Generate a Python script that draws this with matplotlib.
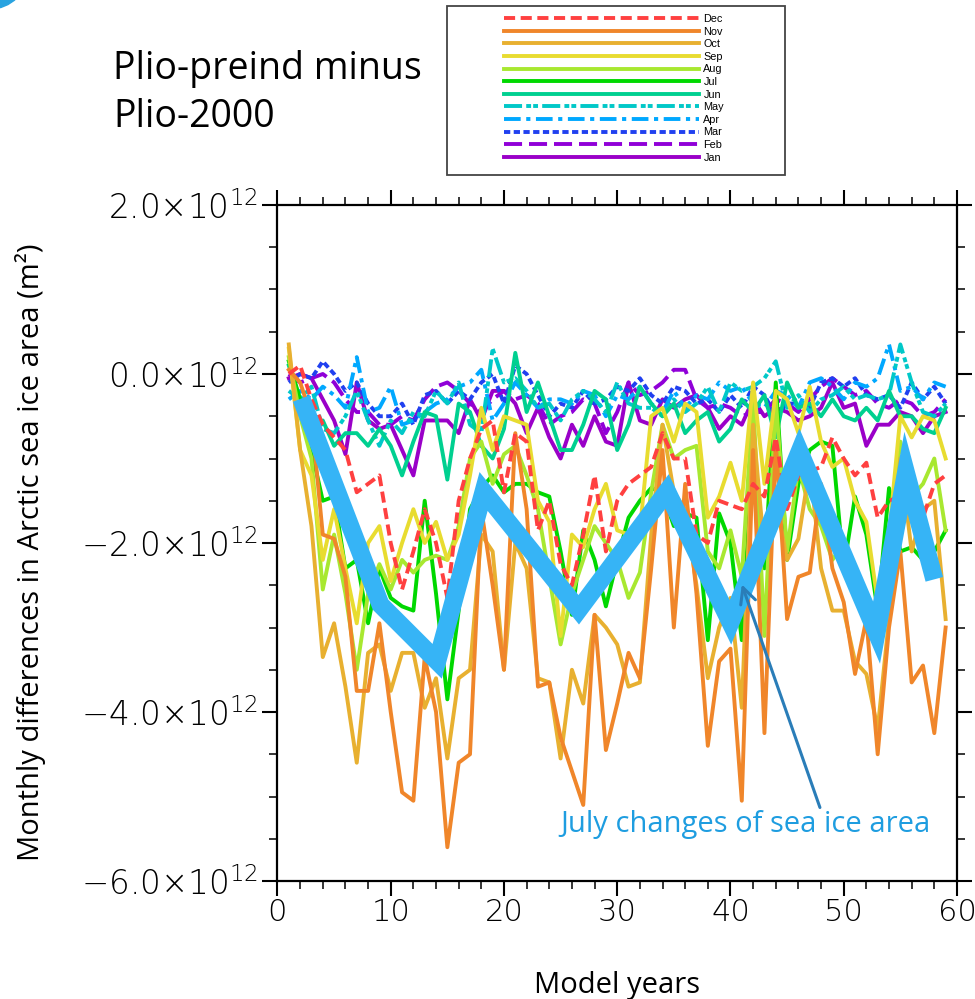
import matplotlib
matplotlib.use('Agg')
import matplotlib.pyplot as plt
import matplotlib.patches as mpatches
import numpy as np

plt.rcParams['lines.scale_dashes'] = False
plt.rcParams['mathtext.default'] = 'regular'

# ---- data (units of 1e12 m^2) ----
years = np.arange(1, 60)

jan = [-0.05, 0.0, -0.05, -0.3, -0.55, -0.95, -0.1, -0.55, -0.65, -0.6,
       -0.9, -1.2, -0.55, -0.55, -0.55, -0.7, -0.3, -0.55, -0.2, -0.2,
       -0.35, -0.7, -0.4, -0.75, -1.0, -0.6, -0.85, -0.5, -0.8, -0.85,
       -0.1, -0.55, -0.6, -0.3, -0.4, -0.3, -0.25, -0.4, -0.65, -0.5,
       -0.6, -0.3, -0.5, -0.4, -0.45, -0.55, -0.5, -0.4, -0.1, -0.4,
       -0.35, -0.85, -0.6, -0.6, -0.45, -0.5, -0.7, -0.5, -0.45]
feb = [0.0, -0.1, -0.05, 0.0, -0.1, -0.3, -0.45, -0.45, -0.6, -0.6,
       -0.5, -0.55, -0.3, -0.15, -0.1, -0.2, -0.35, -0.45, -0.3, -0.2,
       -0.3, -0.25, -0.35, -0.6, -0.5, -0.45, -0.3, -0.35, -0.7, -0.45,
       -0.1, -0.25, -0.2, -0.1, 0.05, 0.05, -0.3, -0.4, -0.35, -0.4,
       -0.5, -0.45, -0.45, -0.3, -0.35, -0.45, -0.3, -0.15, -0.05, -0.15,
       -0.25, -0.2, -0.35, -0.4, -0.3, -0.35, -0.5, -0.45, -0.3]
mar = [-0.1, 0.0, -0.05, 0.15, 0.0, -0.2, -0.1, -0.35, -0.5, -0.5,
       -0.35, -0.6, -0.25, -0.2, -0.35, -0.2, -0.3, -0.1, 0.0, -0.35,
       0.1, 0.0, -0.25, -0.5, -0.35, -0.4, -0.2, -0.35, -0.3, -0.15,
       -0.2, -0.05, -0.25, -0.35, -0.15, -0.2, -0.35, -0.3, -0.45, -0.25,
       -0.4, -0.15, -0.25, -0.5, -0.35, -0.35, -0.4, -0.1, -0.05, -0.15,
       -0.05, -0.25, -0.3, -0.25, -0.4, -0.1, -0.3, -0.15, -0.35]
apr = [-0.3, -0.2, -0.3, -0.15, -0.25, -0.4, 0.2, -0.45, -0.4, -0.15,
       -0.6, -0.55, -0.45, -0.35, -0.3, -0.15, -0.1, 0.05, -0.55, -0.35,
       -0.1, -0.25, -0.4, -0.3, -0.3, -0.35, -0.2, -0.25, -0.5, -0.25,
       -0.3, -0.15, -0.35, -0.45, -0.2, -0.4, -0.25, -0.3, -0.1, -0.2,
       -0.15, -0.35, -0.4, -0.2, -0.25, -0.4, -0.1, -0.05, -0.15, -0.3,
       -0.1, -0.15, -0.05, 0.35, -0.2, -0.15, -0.3, -0.1, -0.15]
may = [-0.2, -0.3, -0.15, -0.65, -0.7, -0.5, -0.2, -0.55, -0.85, -0.55,
       -0.7, -0.45, -0.5, -0.2, -0.35, -0.1, -0.6, -0.7, 0.3, -0.1,
       -0.05, -0.2, -0.4, -0.35, -0.55, -0.3, -0.2, -0.3, -0.45, -0.1,
       -0.35, -0.4, -0.4, -0.5, -0.3, -0.45, -0.35, -0.15, -0.45, -0.1,
       -0.2, -0.15, -0.05, 0.15, -0.4, -0.25, -0.45, -0.3, -0.25, -0.15,
       -0.3, -0.25, -0.3, -0.25, 0.35, -0.1, -0.45, -0.5, -0.35]
jun = [0.1, -0.3, -0.6, -0.55, -0.85, -0.7, -0.7, -0.85, -0.65, -0.85,
       -1.2, -0.8, -0.45, -0.5, -1.25, -0.35, -0.45, -0.85, -1.0, -0.65,
       0.25, -0.45, -0.1, -0.5, -0.9, -0.9, -0.6, -0.2, -0.3, -0.9,
       -0.6, -0.15, -0.35, -0.5, -0.35, -0.7, -0.55, -0.45, -0.8, -0.65,
       -0.3, -0.45, -0.25, -0.75, -0.1, -0.4, -0.35, -0.5, -0.3, -0.5,
       -0.55, -0.4, -0.55, -0.2, -0.5, -0.5, -0.65, -0.7, -0.4]
jul = [0.15, -0.3, -0.9, -1.5, -1.45, -2.3, -2.2, -2.95, -2.3, -2.65,
       -2.75, -2.8, -1.5, -2.6, -3.85, -2.8, -1.6, -1.35, -1.2, -1.4,
       -1.3, -1.3, -1.4, -1.45, -2.1, -2.85, -1.85, -2.2, -2.75, -2.2,
       -1.7, -1.5, -1.35, -1.4, -1.8, -1.65, -1.7, -3.15, -1.65, -2.0,
       -3.15, -0.85, -2.3, -0.1, -2.2, -1.3, -0.9, -0.8, -0.85, -2.3,
       -1.45, -1.9, -2.8, -1.35, -2.1, -2.05, -2.2, -2.1, -1.85]
aug = [0.2, -0.5, -1.0, -2.55, -1.9, -2.6, -3.5, -2.6, -2.25, -2.55,
       -2.2, -2.35, -2.2, -2.15, -2.2, -1.8, -1.0, -0.8, -1.3, -0.95,
       -0.85, -1.2, -1.6, -2.4, -3.2, -2.6, -2.2, -1.8, -2.0, -2.2,
       -2.65, -2.35, -1.4, -0.6, -1.0, -0.9, -0.85, -2.1, -2.3, -1.85,
       -2.4, -0.3, -3.1, -0.3, -2.1, -1.1, -1.6, -1.8, -2.2, -2.0,
       -2.4, -2.8, -3.15, -1.9, -0.8, -1.45, -1.3, -1.0, -1.85]
sep = [0.3, -0.9, -1.2, -2.2, -1.6, -2.3, -2.95, -2.0, -1.8, -2.45,
       -2.0, -1.6, -2.0, -1.75, -2.2, -1.9, -1.2, -0.4, -0.9, -0.5,
       -0.55, -0.6, -1.5, -1.75, -3.1, -1.9, -2.05, -1.6, -1.3, -1.85,
       -1.9, -1.85, -0.5, -0.4, -0.8, -0.35, -0.45, -1.7, -1.45, -1.05,
       -1.5, -0.1, -1.3, -0.2, -0.3, -0.7, -0.15, -0.8, -1.1, -1.0,
       -1.5, -1.75, -2.7, -1.9, -0.5, -0.75, -0.5, -0.55, -1.0]
oct_ = [0.35, -0.9, -1.8, -3.35, -2.95, -3.7, -4.6, -3.3, -3.2, -3.75,
        -3.3, -3.3, -3.95, -3.6, -4.55, -3.6, -3.5, -1.9, -2.1, -3.5,
        -2.0, -2.3, -3.6, -3.65, -4.55, -3.5, -3.9, -2.85, -3.0, -3.2,
        -3.7, -3.65, -1.9, -0.6, -1.4, -1.6, -2.5, -3.6, -3.0, -2.65,
        -3.95, -0.6, -2.1, -1.5, -2.2, -1.95, -1.1, -2.3, -2.8, -2.8,
        -3.4, -3.55, -4.2, -2.9, -1.0, -2.1, -1.6, -1.5, -2.9]
nov = [0.05, -0.1, -0.5, -1.9, -1.95, -2.4, -3.75, -3.75, -2.95, -4.0,
       -4.95, -5.05, -3.35, -4.0, -5.6, -4.6, -4.5, -1.6, -2.5, -3.5,
       -0.7, -1.6, -3.7, -3.65, -4.3, -4.7, -5.1, -2.85, -4.45, -3.9,
       -3.3, -3.6, -2.3, -0.9, -3.0, -1.3, -2.6, -4.4, -3.4, -3.25,
       -5.05, -0.9, -4.25, -0.8, -2.9, -2.4, -2.35, -1.3, -2.3, -2.7,
       -3.55, -2.9, -4.5, -3.0, -2.1, -3.65, -3.45, -4.25, -3.0]
dec = [0.0, 0.1, -0.3, -0.6, -0.75, -0.9, -1.4, -1.3, -1.2, -2.0,
       -2.55, -2.1, -1.6, -2.0, -2.65, -1.5, -1.0, -0.65, -0.55, -1.4,
       -0.7, -0.8, -1.85, -1.5, -2.25, -2.5, -1.9, -1.2, -2.1, -1.5,
       -1.3, -1.2, -1.1, -0.7, -1.0, -1.0, -1.9, -2.0, -1.5, -1.55,
       -1.6, -1.3, -1.45, -0.75, -1.6, -1.2, -1.15, -1.1, -0.75, -1.0,
       -1.2, -1.05, -1.7, -1.5, -1.45, -1.7, -1.7, -1.3, -1.2]

month_names = ['Jan', 'Feb', 'Mar', 'Apr', 'May', 'Jun',
               'Jul', 'Aug', 'Sep', 'Oct', 'Nov', 'Dec']
month_data = [jan, feb, mar, apr, may, jun, jul, aug, sep, oct_, nov, dec]

# hand-drawn July highlight
hl_x = [2.1, 9.1, 14.1, 18.2, 26.6, 34.4, 40.0, 46.1, 52.9, 55.5, 58.0]
hl_y = [-0.29, -2.73, -3.40, -1.39, -2.79, -1.39, -2.94, -0.92, -3.06, -1.17, -2.43]

yticks = [-6, -4, -2, 0, 2]
ytick_labels = ['\u22126.0\u00d710$^{12}$', '\u22124.0\u00d710$^{12}$',
                '\u22122.0\u00d710$^{12}$', '0.0\u00d710$^{12}$', '2.0\u00d710$^{12}$']
xticks = [0, 10, 20, 30, 40, 50, 60]

# ---- styles ----
colors = ['#9a00c8', '#9000d8', '#2040f0', '#00a8ff', '#00c8c8', '#00d090',
          '#00d800', '#a8e830', '#e8dc30', '#e8b030', '#f0862a', '#ff4040']
dashes = [None, (13, 5), (4.5, 2.5), (12, 4, 3, 4), (13, 3, 3.5, 1.5, 3.5, 3),
          None, None, None, None, None, None, (8, 4)]

fig = plt.figure(figsize=(9.75, 9.99), dpi=100)
ax = fig.add_axes([0.2846, 0.1181, 0.6969, 0.6767])

handles = []
for name, vals, c, d in zip(month_names, month_data, colors, dashes):
    ln, = ax.plot(years, np.array(vals) * 1e12, color=c, lw=2.8, label=name)
    if d is not None:
        ln.set_dashes(d)
        ln.set_dash_capstyle('butt')
    handles.append(ln)

ax.plot(np.array(hl_x), np.array(hl_y) * 1e12, color='#36b4f6', lw=13,
        solid_joinstyle='miter', solid_capstyle='butt', zorder=5)

ax.set_xlim(0, 60)
ax.set_ylim(-6e12, 2e12)
ax.set_xticks(xticks)
ax.set_xticks(np.arange(0, 61, 2), minor=True)
ax.set_yticks(np.array(yticks) * 1e12)
ax.set_yticks(np.arange(-6, 2.01, 0.5) * 1e12, minor=True)
ax.set_yticklabels(ytick_labels)
ax.set_xticklabels([str(v) for v in xticks])

for lab in ax.get_xticklabels():
    lab.set_fontfamily('DejaVu Sans')
    lab.set_fontweight(200)
    lab.set_fontsize(22)
for lab in ax.get_yticklabels():
    lab.set_fontfamily('DejaVu Sans')
    lab.set_fontweight(200)
    lab.set_fontsize(23.5)

ax.tick_params(which='major', direction='out', length=11, width=1.5,
               top=True, right=True, pad=3)
ax.tick_params(axis='x', which='major', pad=1)
ax.tick_params(which='minor', direction='out', length=6, width=1.1,
               top=True, right=True)
for sp in ax.spines.values():
    sp.set_linewidth(1.6)

# annotation
ax.text(41.35, -5.33e12, 'July changes of sea ice area', color='#1e9de0',
        fontsize=21, family='Open Sans', ha='center', va='center')
ax.annotate('', xy=(41.0, -2.49e12), xytext=(47.9, -5.13e12),
            arrowprops=dict(arrowstyle='->', color='#2a7db8', lw=2.2,
                            mutation_scale=28, shrinkA=0, shrinkB=0),
            zorder=7)

# labels
fig.text(0.031, 1 - 552 / 999, 'Monthly differences in Arctic sea ice area (m\u00b2)',
         rotation=90, ha='center', va='center', fontsize=21, family='Open Sans')
fig.text(617 / 975, 1 - 985 / 999, 'Model years', ha='center', va='center',
         fontsize=21, family='Open Sans')
fig.text(113 / 975, 1 - 50 / 999, 'Plio-preind minus\nPlio-2000', ha='left', va='top',
         fontsize=27, family='Open Sans', linespacing=1.35)

# legend box
fig.patches.append(mpatches.Rectangle((447 / 975, 1 - 175 / 999), 338 / 975, 169 / 999,
                                      transform=fig.transFigure, fill=False,
                                      edgecolor='#444444', lw=1.3))
fig.legend(handles[::-1], month_names[::-1], loc='upper left',
           bbox_to_anchor=(504 / 975, 1 - 14 / 999), frameon=False,
           prop=dict(family='Liberation Sans', size=7.8),
           handlelength=18.0, handletextpad=0.4, labelspacing=0.24,
           borderpad=0, borderaxespad=0)

# corner decoration
fig.patches.append(mpatches.Circle((-10, 1028), 38, transform=None,
                                   color='#29a3e0'))

fig.savefig('out.png', dpi=100)
